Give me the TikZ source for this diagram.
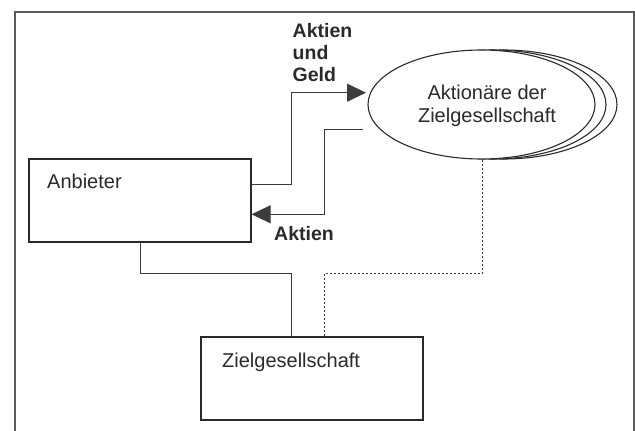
\documentclass[tikz,border=0pt]{standalone}
\usepackage{fontspec}
\setmainfont{Liberation Sans}
\usetikzlibrary{shapes.geometric,arrows.meta,calc}
\definecolor{frame}{HTML}{5A5A5A}
\definecolor{ink}{HTML}{2A2A2A}
\definecolor{conn}{HTML}{3C3C3C}
\tikzset{
  box/.style={draw=ink,line width=1.2pt,fill=white,rectangle,inner sep=0pt},
  blob/.style={draw=ink,line width=1.1pt,fill=white,ellipse,inner sep=0pt,minimum width=227pt,minimum height=109pt},
  txt/.style={font=\fontsize{20}{23.5}\selectfont,text=ink,inner sep=0pt},
  btxt/.style={font=\fontsize{19.5}{22}\selectfont\bfseries,text=ink,inner sep=0pt},
  link/.style={draw=conn,line width=1pt},
  dotlink/.style={draw=conn,line width=1pt,dash pattern=on 2pt off 2pt},
  bigtip/.style={-{Triangle[length=19pt,width=18pt]}}
}
\begin{document}
\begin{tikzpicture}[x=1pt,y=-1pt]
\useasboundingbox (0,0) rectangle (635,431);
% frame
\draw[frame,line width=1.5pt] (15,440) -- (15,12) -- (634,12) -- (634,440);
% boxes
\node[box,minimum width=222pt,minimum height=83pt] (anb) at (140,200.5) {};
\node[txt,anchor=base west] (anbt) at (47,188) {Anbieter};
\node[box,minimum width=222pt,minimum height=83pt] (ziel) at (312,378.5) {};
\node[txt,anchor=base west] (zielt) at (222,367) {Zielgesellschaft};
% stacked ellipses
\node[blob] (ell3) at (503.5,104.5) {};
\node[blob] (ell2) at (492.5,104.5) {};
\node[blob] (ell) at (481.5,104.5) {};
\node[txt,align=center] (ellt) at (487,106) {Aktionäre der\\Zielgesellschaft};
% connectors
\coordinate (tipA) at (366,92.7);
\coordinate (startB) at (363,129);
\draw[link,bigtip] ([yshift=16.3pt]anb.east) -| (291.7,92.7) -- (tipA);
\draw[link,bigtip] (startB) -| (324.7,214.3) -- (anb.east |- 0,214.3);
\draw[link] (anb.south) |- (291.7,273.3) -- (ziel.north -| 291.7,0);
\draw[dotlink] (ell.south -| 482.3,0) |- (324.7,273.3) -- (ziel.north -| 324.7,0);
% labels
\node[btxt,anchor=base west] (l1) at (292.5,37.7) {Aktien};
\node[btxt,anchor=base west] (l2) at (292.5,59.5) {und};
\node[btxt,anchor=base west] (l3) at (292.5,81.7) {Geld};
\node[btxt,anchor=base west] (l4) at (274,240) {Aktien};
\end{tikzpicture}
\end{document}
